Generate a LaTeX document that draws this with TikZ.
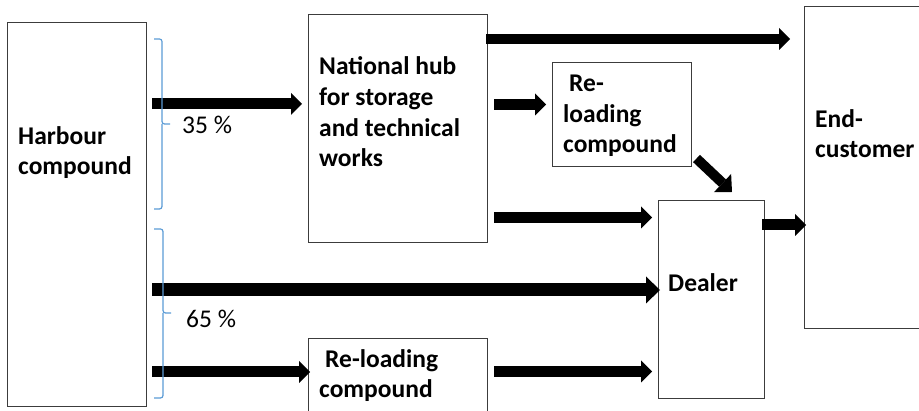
\documentclass[tikz,border=0pt]{standalone}
\usepackage{fontspec}
\setmainfont{Carlito}
\usetikzlibrary{arrows.meta}
\definecolor{bracecol}{RGB}{91,155,213}
\definecolor{edgecol}{RGB}{60,60,60}
\begin{document}
\begin{tikzpicture}[x=1pt,y=-1pt,
  box/.style={draw=edgecol, line width=1pt, rectangle, inner sep=0pt, outer sep=0pt, anchor=north west},
  % multi-line labels are placed by the baseline of their last line
  lbl/.style={font=\bfseries\fontsize{25.5}{30.7}\selectfont, align=left, inner sep=0pt, anchor=base west},
  pct/.style={font=\fontsize{25.5}{30.7}\selectfont, inner sep=0pt, anchor=base west},
  flow/.style={line width=11pt, -{Triangle[length=11pt,width=22pt,line width=0pt]}},
  bigflow/.style={line width=13pt, -{Triangle[length=14pt,width=27pt,line width=0pt]}},
  brace/.style={draw=bracecol, line width=1.2pt, rounded corners=2.5pt}]
\useasboundingbox (0,0) rectangle (919,411);
\clip (0,0) rectangle (919,411);

% boxes
\node[box, minimum width=139pt, minimum height=384pt] (harbour) at (7,23) {};
\node[box, minimum width=179pt, minimum height=228pt] (hub) at (308,15) {};
\node[box, minimum width=139pt, minimum height=104pt] (reltop) at (552,63) {};
\node[box, minimum width=179pt, minimum height=90pt] (relbot) at (308,339) {};
\node[box, minimum width=106pt, minimum height=198pt] (dealer) at (658,201) {};
\node[box, minimum width=130pt, minimum height=322pt] (endc) at (804,7) {};

% box texts
\node[lbl] (harbour-t) at (18,175) {Harbour\\compound};
\node[lbl] (hub-t) at (319,167) {National hub\\for storage\\and technical\\works};
\node[lbl] (reltop-t) at (563,153) {\hspace*{6pt}Re-\\loading\\compound};
\node[lbl] (relbot-t) at (319,398) {\hspace*{6pt}Re-loading\\compound};
\node[lbl] (dealer-t) at (668,292) {Dealer};
\node[lbl] (endc-t) at (815,158) {End-\\customer};

% flows
\draw[flow, shorten <=6pt, shorten >=6pt] (harbour.east |- 0,104) -- (hub.west |- 0,104);
\draw[bigflow, shorten <=6pt, shorten >=-2pt] (harbour.east |- 0,290) -- (dealer.west |- 0,290);
\draw[flow, shorten <=6pt, shorten >=-2pt] (harbour.east |- 0,372) -- (relbot.west |- 0,372);
\draw[flow, line width=10pt, shorten <=-1pt, shorten >=14pt] (hub.east |- 0,39) -- (endc.west |- 0,39);
\draw[flow, shorten <=7pt, shorten >=6pt] (hub.east |- 0,104.5) -- (reltop.west |- 0,104.5);
\draw[flow, shorten <=7pt, shorten >=6pt] (hub.east |- 0,217.5) -- (dealer.west |- 0,217.5);
\draw[flow, shorten <=7pt, shorten >=6pt] (relbot.east |- 0,371.5) -- (dealer.west |- 0,371.5);
\draw[flow, shorten <=-2pt, shorten >=-2pt] (dealer.east |- 0,225) -- (endc.west |- 0,225);
\draw[flow, line width=10pt, -{Triangle[length=13pt,width=25pt,line width=0pt]}]
  ([shift={(5.5,-8.5)}]reltop.south east) -- ([shift={(21,-9)}]dealer.north);

% shares
\draw[brace] (154,39) -- (162,39) -- (162,124) -- (170,124);
\draw[brace] (162,124) -- (162,209) -- (154,209);
\draw[brace] (154,229) -- (163,229) -- (163,313) -- (171,313);
\draw[brace] (163,313) -- (163,398) -- (154,398);
\node[pct] (p35) at (182,134) {35 \%};
\node[pct] (p65) at (186,328) {65 \%};
\end{tikzpicture}
\end{document}
